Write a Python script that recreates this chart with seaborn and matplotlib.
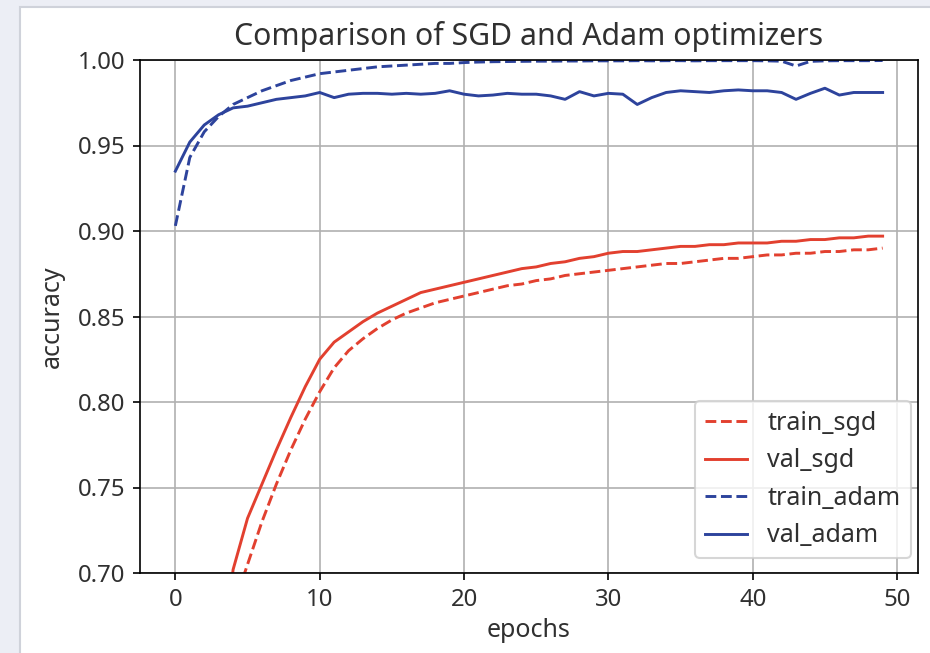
import numpy as np
import pandas as pd
import seaborn as sns
import matplotlib
matplotlib.use("Agg")
import matplotlib.pyplot as plt
from matplotlib.patches import Rectangle

epochs = list(range(50))

train_sgd = [0.30, 0.45, 0.54, 0.60, 0.680, 0.705, 0.730, 0.752, 0.772, 0.790,
             0.806, 0.820, 0.830, 0.837, 0.843, 0.848, 0.852, 0.855, 0.858, 0.860,
             0.862, 0.864, 0.866, 0.868, 0.869, 0.871, 0.872, 0.874, 0.875, 0.876,
             0.877, 0.878, 0.879, 0.880, 0.881, 0.881, 0.882, 0.883, 0.884, 0.884,
             0.885, 0.886, 0.886, 0.887, 0.887, 0.888, 0.888, 0.889, 0.889, 0.890]

val_sgd = [0.35, 0.50, 0.58, 0.630, 0.702, 0.732, 0.752, 0.772, 0.791, 0.809,
           0.825, 0.835, 0.841, 0.847, 0.852, 0.856, 0.860, 0.864, 0.866, 0.868,
           0.870, 0.872, 0.874, 0.876, 0.878, 0.879, 0.881, 0.882, 0.884, 0.885,
           0.887, 0.888, 0.888, 0.889, 0.890, 0.891, 0.891, 0.892, 0.892, 0.893,
           0.893, 0.893, 0.894, 0.894, 0.895, 0.895, 0.896, 0.896, 0.897, 0.897]

train_adam = [0.903, 0.943, 0.958, 0.967, 0.974, 0.978, 0.982, 0.985, 0.988, 0.990,
              0.992, 0.993, 0.994, 0.995, 0.996, 0.9965, 0.997, 0.9975, 0.998, 0.998,
              0.9985, 0.9988, 0.999, 0.9991, 0.9992, 0.9993, 0.9993, 0.9994, 0.9994, 0.9995,
              0.9995, 0.9995, 0.9996, 0.9995, 0.9996, 0.9996, 0.9995, 0.9996, 0.9996, 0.9996,
              0.9996, 0.9995, 0.9993, 0.9965, 0.9992, 0.9995, 0.9996, 0.9996, 0.9996, 0.9997]

val_adam = [0.935, 0.952, 0.962, 0.968, 0.972, 0.973, 0.975, 0.977, 0.978, 0.979,
            0.981, 0.978, 0.980, 0.9805, 0.9805, 0.980, 0.9805, 0.980, 0.9805, 0.982,
            0.980, 0.979, 0.9795, 0.9805, 0.980, 0.980, 0.979, 0.977, 0.9815, 0.979,
            0.9805, 0.980, 0.974, 0.978, 0.981, 0.982, 0.9815, 0.981, 0.982, 0.9825,
            0.982, 0.982, 0.981, 0.977, 0.9805, 0.9835, 0.9795, 0.981, 0.981, 0.981]

series_names = ["train_sgd", "val_sgd", "train_adam", "val_adam"]
series_vals = [train_sgd, val_sgd, train_adam, val_adam]
colors = {"train_sgd": "#e2402f", "val_sgd": "#e2402f",
          "train_adam": "#2d439c", "val_adam": "#2d439c"}
dashes = {"train_sgd": (3.7, 1.6), "val_sgd": "", "train_adam": (3.7, 1.6), "val_adam": ""}

df = pd.concat([pd.DataFrame({"epochs": epochs, "accuracy": v, "series": n})
                for n, v in zip(series_names, series_vals)], ignore_index=True)

plt.rcParams['font.family'] = ['Noto Sans', 'DejaVu Sans']
txt = "#303030"
plt.rcParams['text.color'] = txt
plt.rcParams['axes.labelcolor'] = txt
plt.rcParams['xtick.labelcolor'] = txt
plt.rcParams['ytick.labelcolor'] = txt

fig = plt.figure(figsize=(6.2, 653 / 150), dpi=150, facecolor="#eceef5")
fig.patches.append(Rectangle((20 / 930, -0.01), 1.0, 1.01 - 7 / 653, transform=fig.transFigure,
                             facecolor="white", edgecolor="#cfd2da", linewidth=1.0, zorder=-10))
ax = fig.add_axes([140 / 930, 1 - 573 / 653, (918 - 140) / 930, (573 - 60) / 653])
ax.set_zorder(5)

sns.lineplot(data=df, x="epochs", y="accuracy", hue="series", style="series",
             palette=colors, dashes=dashes, hue_order=series_names, style_order=series_names,
             linewidth=1.4, ax=ax)

ax.set_ylim(0.70, 1.00)
ax.set_xticks([0, 10, 20, 30, 40, 50])
ax.set_yticks([0.70, 0.75, 0.80, 0.85, 0.90, 0.95, 1.00])
ax.tick_params(labelsize=11.5)
ax.grid(True, color="#b0b0b0", linewidth=0.8)
ax.set_axisbelow(True)
ax.set_title("Comparison of SGD and Adam optimizers", fontsize=14.5, pad=7)
ax.set_xlabel("epochs", fontsize=12, labelpad=3)
ax.set_ylabel("accuracy", fontsize=12, labelpad=6)
leg = ax.legend(loc="lower right", bbox_to_anchor=(1.0, 0.014), title=None, fontsize=12,
                handlelength=1.7, borderaxespad=0.3)

fig.savefig("out.png", dpi=150, facecolor=fig.get_facecolor())
